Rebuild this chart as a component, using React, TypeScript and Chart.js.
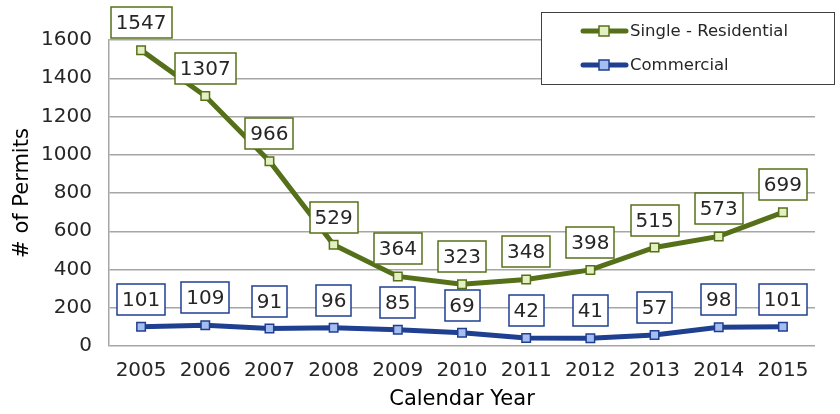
import React, { useEffect, useRef } from "react";
import { Chart, registerables } from "chart.js";

Chart.register(...registerables);

const years = ["2005", "2006", "2007", "2008", "2009", "2010", "2011", "2012", "2013", "2014", "2015"];
const singleResidential = [1547, 1307, 966, 529, 364, 323, 348, 398, 515, 573, 699];
const commercial = [101, 109, 91, 96, 85, 69, 42, 41, 57, 98, 101];
const seriesNames = ["Single - Residential", "Commercial"];

const GREEN = "#56701a";
const GREEN_FILL = "#e4f0c2";
const BLUE = "#1f3f91";
const BLUE_FILL = "#a6bdf0";
const FONT = "'DejaVu Sans', sans-serif";
const TEXT = "#262626";

const labelPlugin = {
  id: "boxLabels",
  afterDatasetsDraw(chart: any) {
    const ctx = chart.ctx;
    ctx.save();
    ctx.font = `20px ${FONT}`;
    ctx.textAlign = "center";
    ctx.textBaseline = "middle";
    chart.data.datasets.forEach((ds: any, di: number) => {
      const meta = chart.getDatasetMeta(di);
      meta.data.forEach((pt: any, i: number) => {
        const txt = String(ds.data[i]);
        const w = Math.round(ctx.measureText(txt).width + 10);
        const h = 31;
        const bottom = Math.round(pt.y - 12);
        const x = Math.round(pt.x - w / 2);
        const y = bottom - h;
        ctx.fillStyle = "#ffffff";
        ctx.fillRect(x, y, w, h);
        ctx.strokeStyle = ds.borderColor;
        ctx.lineWidth = 1.5;
        ctx.strokeRect(x, y, w, h);
        ctx.fillStyle = TEXT;
        ctx.fillText(txt, pt.x, y + h / 2 + 1);
      });
    });
    ctx.restore();
  },
  afterDraw(chart: any) {
    const ctx = chart.ctx;
    ctx.save();
    ctx.strokeStyle = "#404040";
    ctx.lineWidth = 1;
    ctx.fillStyle = "#ffffff";
    ctx.fillRect(541, 12, 293, 72);
    ctx.strokeRect(541.5, 12.5, 293, 72);
    const items = [
      { name: seriesNames[0], line: GREEN, fill: GREEN_FILL, y: 31 },
      { name: seriesNames[1], line: BLUE, fill: BLUE_FILL, y: 65 },
    ];
    items.forEach((it) => {
      ctx.strokeStyle = it.line;
      ctx.lineWidth = 5;
      ctx.lineCap = "round";
      ctx.beginPath();
      ctx.moveTo(583, it.y);
      ctx.lineTo(626, it.y);
      ctx.stroke();
      ctx.fillStyle = it.fill;
      ctx.lineWidth = 1.5;
      ctx.fillRect(599, it.y - 5, 10, 10);
      ctx.strokeRect(599, it.y - 5, 10, 10);
      ctx.fillStyle = TEXT;
      ctx.font = `16.5px ${FONT}`;
      ctx.textAlign = "left";
      ctx.textBaseline = "middle";
      ctx.fillText(it.name, 630, it.y + 1);
    });
    ctx.restore();
  },
};

export default function App() {
  const ref = useRef<HTMLCanvasElement>(null);
  useEffect(() => {
    document.body.style.margin = "0";
    const chart = new Chart(ref.current!, {
      type: "line",
      data: {
        labels: years,
        datasets: [
          {
            label: seriesNames[0],
            data: singleResidential,
            borderColor: GREEN,
            backgroundColor: GREEN_FILL,
            borderWidth: 5,
            pointStyle: "rect",
            pointRadius: 6,
            pointBorderWidth: 1.5,
            pointBorderColor: GREEN,
            pointBackgroundColor: GREEN_FILL,
            tension: 0,
          },
          {
            label: seriesNames[1],
            data: commercial,
            borderColor: BLUE,
            backgroundColor: BLUE_FILL,
            borderWidth: 5,
            pointStyle: "rect",
            pointRadius: 6,
            pointBorderWidth: 1.5,
            pointBorderColor: BLUE,
            pointBackgroundColor: BLUE_FILL,
            tension: 0,
          },
        ],
      },
      options: {
        animation: false,
        responsive: false,
        maintainAspectRatio: false,
        layout: { padding: { top: 40, right: 25, left: 0, bottom: 0 } },
        plugins: { legend: { display: false }, tooltip: { enabled: false } },
        scales: {
          x: {
            offset: true,
            grid: { display: false, drawTicks: false },
            border: { display: false },
            ticks: { color: TEXT, font: { family: FONT, size: 20 }, padding: 13, maxRotation: 0 },
            title: {
              display: true,
              text: "Calendar Year",
              color: "#000",
              font: { family: FONT, size: 21 },
              padding: { top: 0, bottom: 2 },
            },
            afterFit: (s: any) => {
              s.height = 68;
            },
          },
          y: {
            min: 0,
            max: 1600,
            ticks: {
              stepSize: 200,
              color: TEXT,
              font: { family: FONT, size: 20 },
              padding: 17,
              callback: (v: any) => String(v),
            },
            grid: { color: "#a6a6a6", lineWidth: 1.5, drawTicks: false },
            border: { display: true, color: "#a6a6a6", width: 1.5 },
            title: {
              display: true,
              text: "# of Permits",
              color: "#000",
              font: { family: FONT, size: 21, weight: "500" },
              padding: { top: 10, bottom: 0 },
            },
            afterFit: (s: any) => {
              s.width = 109;
            },
          },
        },
      },
      plugins: [labelPlugin],
    });
    return () => chart.destroy();
  }, []);
  return (
    <div style={{ width: 840, height: 414 }}>
      <canvas ref={ref} width={840} height={414} style={{ display: "block" }} />
    </div>
  );
}
